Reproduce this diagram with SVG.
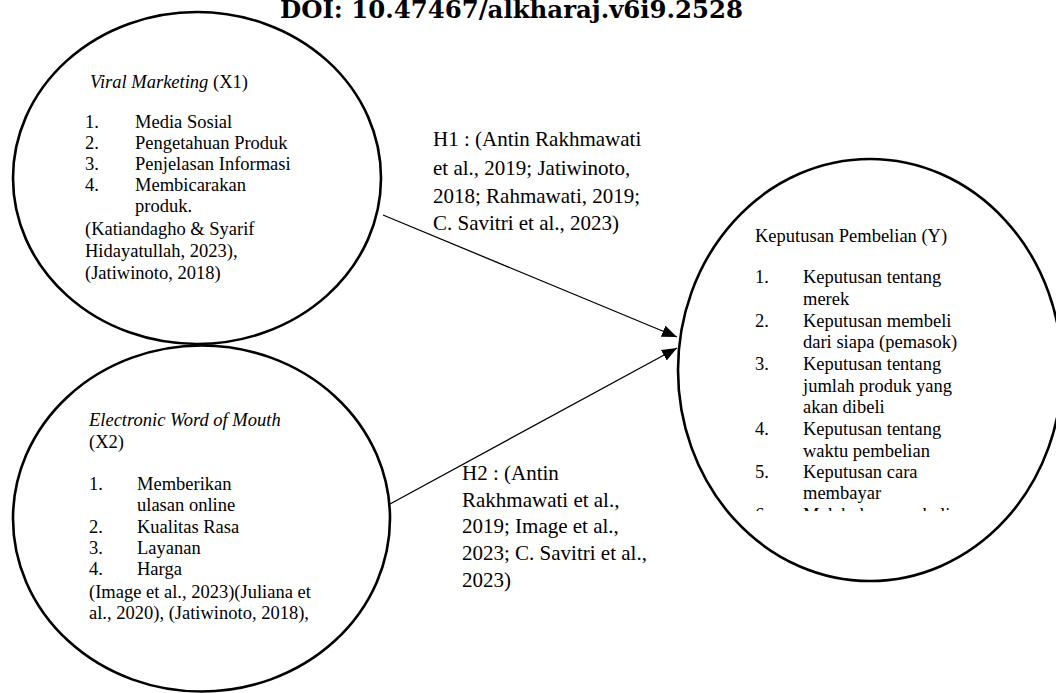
<svg xmlns="http://www.w3.org/2000/svg" width="1056" height="693" viewBox="0 0 1056 693">
<style>
.t{font-family:"Liberation Serif","Times New Roman",serif;font-size:18.5px;fill:#000}
.h{font-family:"Liberation Serif","Times New Roman",serif;font-size:21px;fill:#000}
.i{font-style:italic}
.node{fill:#fff;stroke:#000;stroke-width:2.6}
.conn{stroke:#000;stroke-width:1.3;fill:none;marker-end:url(#arr)}
.title{font-family:"DejaVu Serif",serif;font-weight:bold;font-size:25px;fill:#000}
</style>
<defs>
<marker id="arr" markerUnits="userSpaceOnUse" markerWidth="16" markerHeight="14" refX="15" refY="6" orient="auto">
<path d="M0,0 L15,6 L0,12 Z" fill="#000"/>
</marker>
<clipPath id="clipY"><rect x="700" y="300" width="300" height="211"/></clipPath>
</defs>
<rect width="1056" height="693" fill="#fff"/>
<text class="title" x="280" y="18" textLength="463" lengthAdjust="spacingAndGlyphs">DOI: 10.47467/alkharaj.v6i9.2528</text>

<g id="node-x1">
<ellipse class="node" cx="197" cy="178" rx="184" ry="166"/>
<text class="t" x="90" y="88"><tspan class="i">Viral Marketing</tspan> (X1)</text>
<text class="t" x="85" y="128">1.</text><text class="t" x="135" y="128">Media Sosial</text>
<text class="t" x="85" y="149">2.</text><text class="t" x="135" y="149">Pengetahuan Produk</text>
<text class="t" x="85" y="170">3.</text><text class="t" x="135" y="170">Penjelasan Informasi</text>
<text class="t" x="85" y="191">4.</text><text class="t" x="135" y="191">Membicarakan</text>
<text class="t" x="135" y="212">produk.</text>
<text class="t" x="85" y="235">(Katiandagho &amp; Syarif</text>
<text class="t" x="85" y="257">Hidayatullah, 2023),</text>
<text class="t" x="85" y="279">(Jatiwinoto, 2018)</text>
</g>

<g id="node-x2">
<ellipse class="node" cx="201.5" cy="518.5" rx="188.5" ry="173"/>
<text class="t i" x="89" y="426">Electronic Word of Mouth</text>
<text class="t" x="89" y="448">(X2)</text>
<text class="t" x="89" y="490">1.</text><text class="t" x="137" y="490">Memberikan</text>
<text class="t" x="137" y="511">ulasan online</text>
<text class="t" x="89" y="533">2.</text><text class="t" x="137" y="533">Kualitas Rasa</text>
<text class="t" x="89" y="554">3.</text><text class="t" x="137" y="554">Layanan</text>
<text class="t" x="89" y="575">4.</text><text class="t" x="137" y="575">Harga</text>
<text class="t" x="89" y="598">(Image et al., 2023)(Juliana et</text>
<text class="t" x="89" y="619">al., 2020), (Jatiwinoto, 2018),</text>
</g>

<g id="node-y">
<ellipse class="node" cx="870" cy="370" rx="192" ry="211"/>
<text class="t" x="755" y="242">Keputusan Pembelian (Y)</text>
<text class="t" x="755" y="283">1.</text><text class="t" x="803" y="283">Keputusan tentang</text>
<text class="t" x="803" y="305">merek</text>
<text class="t" x="755" y="327">2.</text><text class="t" x="803" y="327">Keputusan membeli</text>
<text class="t" x="803" y="348">dari siapa (pemasok)</text>
<text class="t" x="755" y="370">3.</text><text class="t" x="803" y="370">Keputusan tentang</text>
<text class="t" x="803" y="392">jumlah produk yang</text>
<text class="t" x="803" y="413">akan dibeli</text>
<text class="t" x="755" y="435">4.</text><text class="t" x="803" y="435">Keputusan tentang</text>
<text class="t" x="803" y="457">waktu pembelian</text>
<text class="t" x="755" y="478">5.</text><text class="t" x="803" y="478">Keputusan cara</text>
<text class="t" x="803" y="499">membayar</text>
<g clip-path="url(#clipY)">
<text class="t" x="755" y="521">6.</text><text class="t" x="803" y="521">Melakukan pembelian</text>
</g>
</g>

<g id="connectors">
<line class="conn" x1="383" y1="215" x2="677" y2="337"/>
<line class="conn" x1="390" y1="504" x2="677" y2="348"/>
</g>

<g id="labels">
<text class="h" x="433" y="146">H1 : (Antin Rakhmawati</text>
<text class="h" x="433" y="175">et al., 2019; Jatiwinoto,</text>
<text class="h" x="433" y="203">2018; Rahmawati, 2019;</text>
<text class="h" x="433" y="230">C. Savitri et al., 2023)</text>
<text class="h" x="462" y="480">H2 : (Antin</text>
<text class="h" x="462" y="507">Rakhmawati et al.,</text>
<text class="h" x="462" y="533">2019; Image et al.,</text>
<text class="h" x="462" y="560">2023; C. Savitri et al.,</text>
<text class="h" x="462" y="587">2023)</text>
</g>
</svg>
